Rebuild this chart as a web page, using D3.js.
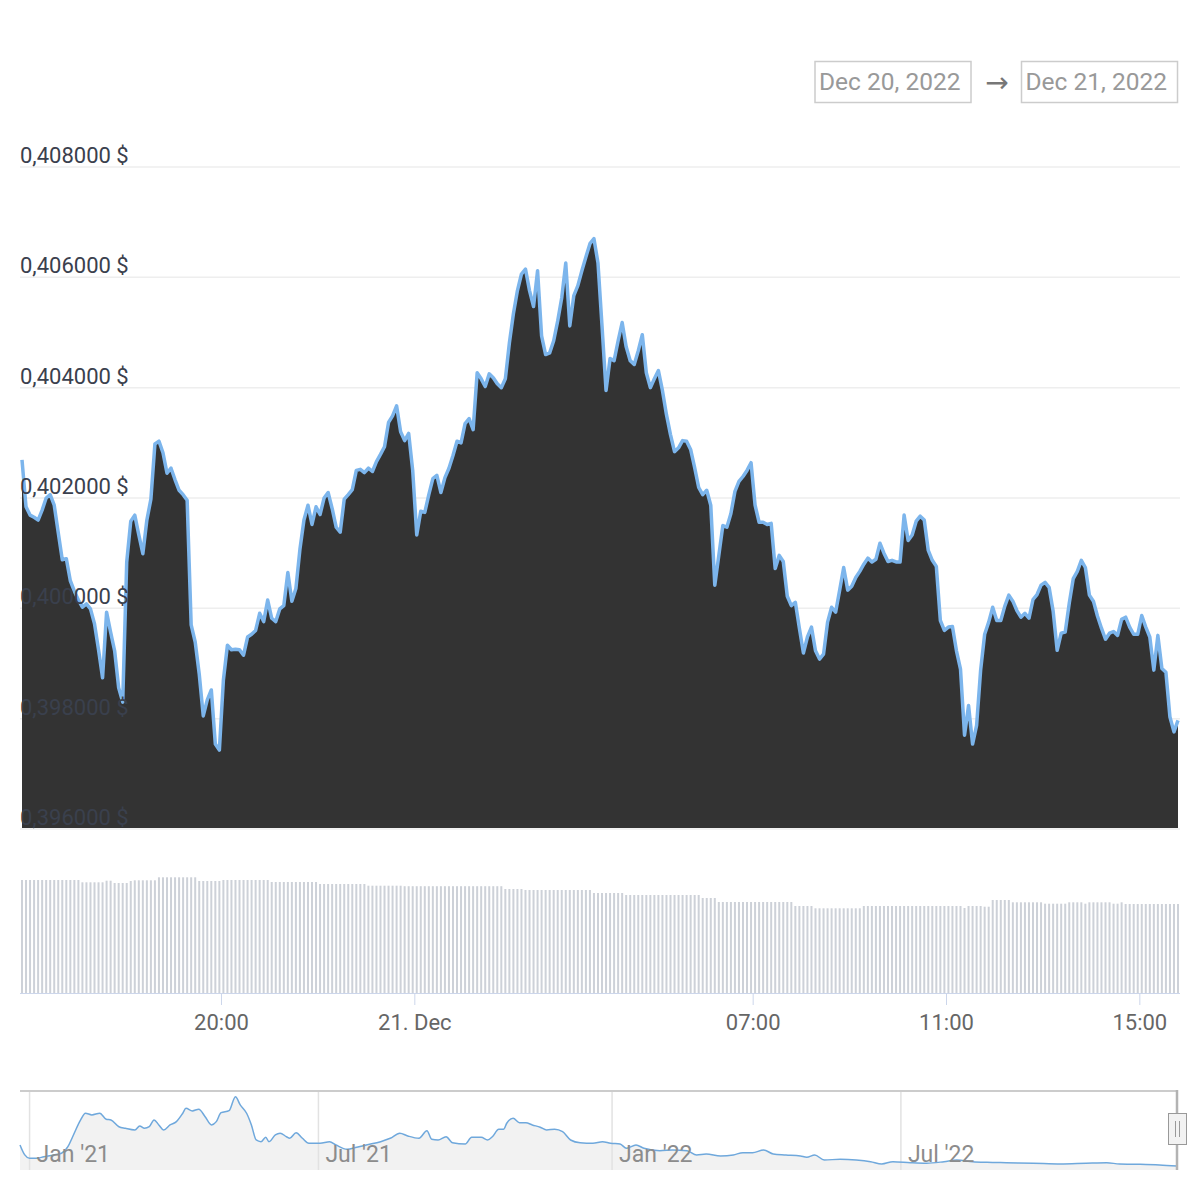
<!DOCTYPE html>
<html>
<head>
<meta charset="utf-8">
<script src="https://cdn.jsdelivr.net/npm/d3@7/dist/d3.min.js"></script>
<style>
  body { margin: 0; background: #fff; }
  svg { display: block; font-family: Roboto, "Noto Sans", sans-serif; }
</style>
</head>
<body>
<svg width="1200" height="1200"></svg>
<script>
// price every 5 minutes, Dec 20 2022 15:53 -> Dec 21 2022 15:48 (UTC)
var startTime = Date.UTC(2022, 11, 20, 15, 53);
var stepMinutes = 5;

var prices = [
  0.40269, 0.40184, 0.40169, 0.40165, 0.40160, 0.40178, 0.40200, 0.40206, 0.40187, 0.40137,
  0.40088, 0.40090, 0.40050, 0.40031, 0.40015, 0.40002, 0.40008, 0.39999, 0.39972, 0.39925,
  0.39874, 0.39993, 0.39957, 0.39923, 0.39856, 0.39830, 0.40084, 0.40158, 0.40169, 0.40133,
  0.40099, 0.40160, 0.40198, 0.40298, 0.40303, 0.40282, 0.40245, 0.40254, 0.40233, 0.40214,
  0.40206, 0.40196, 0.39970, 0.39939, 0.39881, 0.39805, 0.39834, 0.39852, 0.39754, 0.39743,
  0.39870, 0.39933, 0.39925, 0.39926, 0.39925, 0.39915, 0.39948, 0.39953, 0.39960, 0.39991,
  0.39976, 0.40015, 0.39982, 0.39976, 0.39999, 0.40005, 0.40065, 0.40013, 0.40036, 0.40107,
  0.40160, 0.40187, 0.40152, 0.40184, 0.40170, 0.40200, 0.40210, 0.40181, 0.40147, 0.40138,
  0.40198, 0.40206, 0.40215, 0.40250, 0.40252, 0.40246, 0.40254, 0.40248, 0.40266, 0.40279,
  0.40293, 0.40337, 0.40349, 0.40367, 0.40320, 0.40304, 0.40317, 0.40250, 0.40133, 0.40176,
  0.40174, 0.40206, 0.40235, 0.40241, 0.40210, 0.40237, 0.40254, 0.40277, 0.40303, 0.40300,
  0.40335, 0.40344, 0.40324, 0.40427, 0.40416, 0.40402, 0.40425, 0.40418, 0.40407, 0.40400,
  0.40416, 0.40481, 0.40534, 0.40576, 0.40606, 0.40615, 0.40576, 0.40547, 0.40612, 0.40494,
  0.40460, 0.40463, 0.40485, 0.40521, 0.40563, 0.40626, 0.40512, 0.40567, 0.40585, 0.40612,
  0.40637, 0.40661, 0.40670, 0.40626, 0.40512, 0.40395, 0.40453, 0.40449, 0.40485, 0.40518,
  0.40474, 0.40449, 0.40442, 0.40467, 0.40496, 0.40427, 0.40400, 0.40416, 0.40431, 0.40395,
  0.40351, 0.40315, 0.40284, 0.40291, 0.40304, 0.40303, 0.40288, 0.40255, 0.40219, 0.40206,
  0.40214, 0.40187, 0.40042, 0.40096, 0.40150, 0.40147, 0.40172, 0.40212, 0.40230, 0.40239,
  0.40250, 0.40264, 0.40187, 0.40156, 0.40156, 0.40152, 0.40154, 0.40072, 0.40096, 0.40085,
  0.40022, 0.40005, 0.40011, 0.39964, 0.39919, 0.39948, 0.39966, 0.39923, 0.39908, 0.39917,
  0.39975, 0.40002, 0.39993, 0.40033, 0.40074, 0.40033, 0.40040, 0.40056, 0.40067, 0.40080,
  0.40091, 0.40084, 0.40089, 0.40118, 0.40100, 0.40085, 0.40087, 0.40084, 0.40084, 0.40169,
  0.40123, 0.40133, 0.40158, 0.40167, 0.40160, 0.40105, 0.40087, 0.40076, 0.39978, 0.39960,
  0.39966, 0.39967, 0.39923, 0.39890, 0.39770, 0.39824, 0.39754, 0.39788, 0.39888, 0.39953,
  0.39975, 0.40002, 0.39978, 0.39978, 0.40004, 0.40024, 0.40013, 0.39996, 0.39984, 0.39991,
  0.39982, 0.40016, 0.40025, 0.40042, 0.40047, 0.40038, 0.39995, 0.39924, 0.39955, 0.39957,
  0.40009, 0.40054, 0.40067, 0.40087, 0.40074, 0.40024, 0.40013, 0.39986, 0.39964, 0.39944,
  0.39955, 0.39958, 0.39951, 0.39980, 0.39984, 0.39966, 0.39953, 0.39953, 0.39987, 0.39966,
  0.39948, 0.39888, 0.39951, 0.39891, 0.39884, 0.39803, 0.39776, 0.39797
];

// 24h volume (million $), same timestamps
var volumes = [
  1130, 1130, 1130, 1130, 1130, 1130, 1130, 1130, 1130, 1130,
  1130, 1130, 1130, 1130, 1130, 1107, 1107, 1107, 1107, 1107,
  1107, 1123, 1123, 1100, 1100, 1100, 1100, 1120, 1127, 1127,
  1127, 1127, 1127, 1127, 1157, 1157, 1157, 1157, 1157, 1157,
  1157, 1157, 1157, 1157, 1120, 1120, 1120, 1120, 1120, 1120,
  1130, 1130, 1130, 1130, 1130, 1130, 1130, 1130, 1130, 1130,
  1130, 1130, 1110, 1110, 1110, 1110, 1110, 1110, 1110, 1110,
  1110, 1110, 1110, 1110, 1090, 1090, 1090, 1090, 1090, 1090,
  1090, 1090, 1090, 1090, 1090, 1090, 1073, 1073, 1073, 1073,
  1073, 1073, 1073, 1073, 1073, 1068, 1068, 1068, 1068, 1068,
  1068, 1068, 1068, 1068, 1068, 1068, 1068, 1068, 1068, 1068,
  1068, 1068, 1068, 1068, 1068, 1068, 1068, 1068, 1068, 1068,
  1040, 1040, 1040, 1040, 1040, 1030, 1030, 1030, 1030, 1030,
  1030, 1030, 1030, 1030, 1030, 1030, 1030, 1030, 1030, 1030,
  1030, 1030, 1000, 1000, 1000, 1000, 1000, 1000, 1000, 1000,
  980, 980, 980, 980, 980, 980, 980, 980, 980, 980,
  980, 980, 980, 980, 980, 980, 980, 980, 980, 950,
  950, 950, 950, 910, 910, 910, 910, 910, 910, 910,
  910, 910, 910, 910, 910, 910, 910, 910, 910, 910,
  910, 910, 870, 870, 870, 870, 870, 847, 847, 847,
  847, 847, 847, 847, 847, 847, 847, 847, 847, 870,
  870, 870, 870, 870, 870, 870, 870, 870, 870, 870,
  870, 870, 870, 870, 870, 870, 870, 870, 870, 870,
  870, 870, 870, 870, 850, 870, 870, 870, 870, 863,
  863, 930, 930, 930, 930, 930, 907, 907, 907, 907,
  907, 907, 907, 907, 893, 893, 893, 893, 893, 893,
  907, 907, 907, 907, 893, 907, 907, 907, 907, 907,
  907, 893, 893, 907, 890, 890, 890, 890, 890, 890,
  890, 890, 890, 890, 890, 890, 890, 890
];

var yTicks = [0.396, 0.398, 0.400, 0.402, 0.404, 0.406, 0.408];
var xTickTimes = [Date.UTC(2022, 11, 20, 20), Date.UTC(2022, 11, 21, 0), Date.UTC(2022, 11, 21, 7),
                  Date.UTC(2022, 11, 21, 11), Date.UTC(2022, 11, 21, 15)];
var xTickLabels = ['20:00', '21. Dec', '07:00', '11:00', '15:00'];

var rangeFrom = 'Dec 20, 2022';
var rangeTo = 'Dec 21, 2022';

// navigator: whole history, days after Dec 26 2020 and price ($)
var navStart = Date.UTC(2020, 11, 26);
var navDay = [0, 3, 6, 10, 15, 21, 26, 30, 33, 38, 41, 45, 50, 54, 57, 62, 66, 72, 75, 78,
  81, 84, 87, 90, 94, 98, 102, 104, 108, 112, 116, 120, 123, 126, 131, 135, 138, 142, 145, 148,
  151, 154, 156, 160, 163, 167, 169, 173, 177, 181, 188, 194, 198, 205, 211, 217, 226, 232, 238, 243,
  250, 255, 258, 262, 267, 271, 279, 283, 289, 293, 296, 300, 303, 305, 309, 313, 317, 321, 326, 330,
  335, 340, 345, 351, 359, 365, 370, 376, 380, 386, 391, 401, 409, 418, 424, 430, 439, 447, 453, 459,
  466, 472, 480, 489, 493, 498, 504, 514, 524, 533, 540, 547, 558, 568, 579, 587, 597, 606, 618, 635,
  652, 668, 681, 689, 702, 714, 725];
var navPrice = [2.38, 1.43, 1.11, 1.11, 1.26, 1.43, 1.59, 2.21, 3.16, 4.75, 5.39, 5.23, 5.39, 4.82, 4.75, 4.11, 3.96, 3.80, 4.18, 3.96,
  4.11, 4.75, 4.28, 3.80, 4.28, 4.59, 5.39, 5.86, 5.61, 5.77, 5.06, 4.28, 4.59, 5.44, 5.63, 6.96, 6.18, 5.39, 4.28, 2.85,
  2.69, 3.11, 2.69, 3.33, 3.49, 3.16, 3.01, 3.54, 3.01, 2.54, 2.54, 2.69, 2.38, 1.97, 2.16, 2.38, 2.69, 3.01, 3.49, 3.23,
  3.01, 3.73, 2.92, 2.85, 3.16, 2.59, 2.47, 3.11, 3.11, 2.85, 3.16, 3.87, 3.87, 4.44, 4.91, 4.49, 4.49, 4.28, 4.06, 3.80,
  3.87, 3.64, 2.85, 2.59, 2.54, 2.69, 2.54, 2.47, 2.06, 2.38, 2.06, 1.83, 1.90, 1.83, 1.43, 1.52, 1.33, 1.43, 1.64, 1.64,
  1.90, 1.52, 1.43, 1.33, 1.21, 1.43, 0.95, 1.02, 0.95, 0.79, 0.57, 0.79, 0.69, 0.64, 0.79, 0.95, 0.79, 0.73, 0.69, 0.64,
  0.57, 0.64, 0.69, 0.57, 0.54, 0.48, 0.38];
var navTickTimes = [Date.UTC(2021, 0, 1), Date.UTC(2021, 6, 1), Date.UTC(2022, 0, 1), Date.UTC(2022, 6, 1)];
var navTickLabels = ["Jan '21", "Jul '21", "Jan '22", "Jul '22"];

function main() {
	var svg = d3.select('svg');

	var times = prices.map(function(p, i) { return new Date(startTime + i * stepMinutes * 60000); });
	var data = prices.map(function(p, i) { return {t: times[i], price: p, vol: volumes[i]}; });

	var x = d3.scaleUtc().domain([times[0], times[times.length - 1]]).range([22, 1178]);
	var y = d3.scaleLinear().domain([0.396, 0.408]).range([829, 167]);
	var vy = d3.scaleLinear().domain([0, 1200]).range([993, 873]);

	var fmt = d3.format('.6f');

	// range selector boxes
	var sel = svg.append('g').attr('class', 'range');
	sel.append('rect').attr('x', 815).attr('y', 61.5).attr('width', 156).attr('height', 41)
		.attr('fill', 'none').attr('stroke', '#cccccc').attr('stroke-width', 1.5);
	sel.append('rect').attr('x', 1021.5).attr('y', 61.5).attr('width', 156).attr('height', 41)
		.attr('fill', 'none').attr('stroke', '#cccccc').attr('stroke-width', 1.5);
	sel.append('text').attr('x', 819).attr('y', 90).text(rangeFrom)
		.attr('font-size', 24.5).attr('fill', '#999');
	sel.append('text').attr('x', 1025.5).attr('y', 90).text(rangeTo)
		.attr('font-size', 24.5).attr('fill', '#999');
	sel.append('text').attr('x', 997).attr('y', 92).text('\u2192')
		.attr('text-anchor', 'middle').attr('font-size', 28).attr('fill', '#777')
		.attr('font-family', '"Noto Sans", "DejaVu Sans", sans-serif');

	// horizontal grid
	svg.append('g').selectAll('line').data(yTicks).enter().append('line')
		.attr('x1', 20).attr('x2', 1180)
		.attr('y1', function(d) { return y(d); })
		.attr('y2', function(d) { return y(d); })
		.attr('stroke', '#eeeeee').attr('stroke-width', 1.5);

	// price area + line
	var area = d3.area()
		.x(function(d) { return x(d.t); })
		.y0(y(0.396) - 1)
		.y1(function(d) { return y(d.price); });
	var line = d3.line()
		.x(function(d) { return x(d.t); })
		.y(function(d) { return y(d.price); });

	svg.append('path').datum(data).attr('d', area).attr('fill', '#333333');
	svg.append('path').datum(data).attr('d', line)
		.attr('fill', 'none').attr('stroke', '#7cb5ec').attr('stroke-width', 3.5)
		.attr('stroke-linejoin', 'round');

	// y labels (drawn over the area, like the original)
	svg.append('g').selectAll('text').data(yTicks).enter().append('text')
		.attr('x', 20)
		.attr('y', function(d) { return y(d) - 4; })
		.text(function(d) { return fmt(d).replace('.', ',') + ' $'; })
		.attr('font-size', 22).attr('fill', '#3a404d');

	// volume bars
	svg.append('g').selectAll('rect').data(data).enter().append('rect')
		.attr('x', function(d) { return x(d.t) - 1; })
		.attr('y', function(d) { return vy(d.vol); })
		.attr('width', 2)
		.attr('height', function(d) { return vy(0) - vy(d.vol); })
		.attr('fill', '#cdd1d8');

	// x axis
	var xAxis = d3.axisBottom(x)
		.tickValues(xTickTimes.map(function(t) { return new Date(t); }))
		.tickFormat(function(d, i) { return xTickLabels[i]; })
		.tickSize(12).tickSizeOuter(0).tickPadding(9);
	var gx = svg.append('g').attr('transform', 'translate(0,993)').call(xAxis);
	gx.select('.domain').attr('d', 'M20,0.5H1180').attr('stroke', '#ccd6eb');
	gx.selectAll('.tick line').attr('stroke', '#ccd6eb');
	gx.selectAll('.tick text').attr('font-size', 22).attr('fill', '#666')
		.attr('font-family', 'Roboto, sans-serif');

	// navigator
	var nx = d3.scaleUtc().domain([new Date(navStart), new Date(Date.UTC(2022, 11, 21))]).range([20, 1177]);
	var ny = d3.scaleLinear().domain([0, 7.5]).range([1170, 1091]);
	var navData = navDay.map(function(d, i) {
		return {t: new Date(navStart + d * 86400000), price: navPrice[i]};
	});

	var nav = svg.append('g').attr('class', 'navigator');
	nav.append('path').datum(navData)
		.attr('d', d3.area().x(function(d) { return nx(d.t); }).y0(1170).y1(function(d) { return ny(d.price); })
			.curve(d3.curveMonotoneX))
		.attr('fill', '#f2f2f2');
	nav.selectAll('line.grid').data(navTickTimes).enter().append('line')
		.attr('class', 'grid')
		.attr('x1', function(d) { return nx(new Date(d)); })
		.attr('x2', function(d) { return nx(new Date(d)); })
		.attr('y1', 1091).attr('y2', 1170)
		.attr('stroke', '#e2e2e2').attr('stroke-width', 1.5);
	nav.append('path').datum(navData)
		.attr('d', d3.line().x(function(d) { return nx(d.t); }).y(function(d) { return ny(d.price); })
			.curve(d3.curveMonotoneX))
		.attr('fill', 'none').attr('stroke', '#6fa8dc').attr('stroke-width', 1.5);
	nav.selectAll('text').data(navTickTimes).enter().append('text')
		.attr('x', function(d) { return nx(new Date(d)) + 7; })
		.attr('y', 1162)
		.text(function(d, i) { return navTickLabels[i]; })
		.attr('font-size', 23).attr('fill', '#8c8c8c');
	nav.append('line').attr('x1', 20).attr('x2', 1178).attr('y1', 1091).attr('y2', 1091)
		.attr('stroke', '#cccccc').attr('stroke-width', 2);
	nav.append('line').attr('x1', 1177).attr('x2', 1177).attr('y1', 1090).attr('y2', 1170)
		.attr('stroke', '#b3b3b3').attr('stroke-width', 2.5);
	nav.append('rect').attr('x', 1168.5).attr('y', 1113.5).attr('width', 18).attr('height', 31)
		.attr('fill', '#f2f2f2').attr('stroke', '#999');
	nav.selectAll('line.grip').data([1175.5, 1179.5]).enter().append('line')
		.attr('class', 'grip')
		.attr('x1', function(d) { return d; }).attr('x2', function(d) { return d; })
		.attr('y1', 1121).attr('y2', 1137)
		.attr('stroke', '#999');
}

main();
</script>
</body>
</html>
